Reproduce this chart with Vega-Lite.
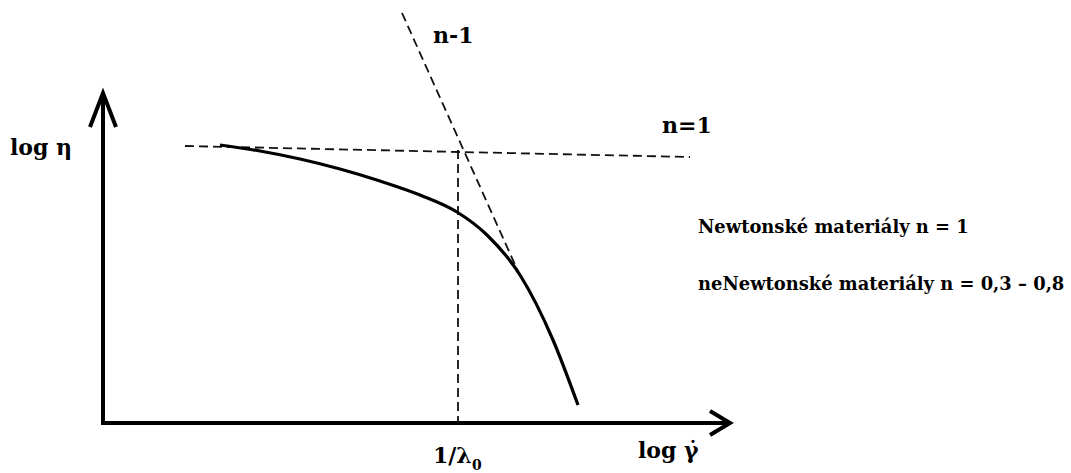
{
  "$schema": "https://vega.github.io/schema/vega-lite/v6.json",
  "width": 1071,
  "height": 473,
  "autosize": {"type": "fit", "contains": "padding"},
  "padding": 0,
  "background": "white",
  "config": {"view": {"stroke": null}},
  "datasets": {
    "axes": [
      {"part": "yaxis", "k": 0, "g": 103, "v": 48},
      {"part": "yaxis", "k": 1, "g": 103, "v": 378},
      {"part": "yhead", "k": 0, "g": 90, "v": 346},
      {"part": "yhead", "k": 1, "g": 103, "v": 380},
      {"part": "yhead", "k": 2, "g": 116, "v": 346},
      {"part": "xaxis", "k": 0, "g": 101, "v": 50},
      {"part": "xaxis", "k": 1, "g": 728, "v": 50},
      {"part": "xhead", "k": 0, "g": 710, "v": 62},
      {"part": "xhead", "k": 1, "g": 730, "v": 50},
      {"part": "xhead", "k": 2, "g": 710, "v": 38}
    ],
    "guides": [
      {"part": "n=1", "k": 0, "g": 185, "v": 327},
      {"part": "n=1", "k": 1, "g": 690, "v": 316},
      {"part": "n-1", "k": 0, "g": 402, "v": 460},
      {"part": "n-1", "k": 1, "g": 521, "v": 195},
      {"part": "lambda", "k": 0, "g": 458, "v": 323},
      {"part": "lambda", "k": 1, "g": 458, "v": 50}
    ],
    "curve": [
      {"g": 220, "v": 328},
      {"g": 260, "v": 322},
      {"g": 300, "v": 314},
      {"g": 340, "v": 304},
      {"g": 380, "v": 292},
      {"g": 420, "v": 278},
      {"g": 457, "v": 261},
      {"g": 487, "v": 238},
      {"g": 520, "v": 198},
      {"g": 553, "v": 133},
      {"g": 578, "v": 68}
    ],
    "labels": [
      {"kind": "big", "text": "log η", "g": 10, "v": 318},
      {"kind": "big", "text": "n-1", "g": 433, "v": 430},
      {"kind": "big", "text": "n=1", "g": 662, "v": 340},
      {"kind": "big", "text": "1/λ", "g": 433, "v": 10},
      {"kind": "big", "text": "log γ̇", "g": 638, "v": 15},
      {"kind": "sub", "text": "0", "g": 472, "v": 3},
      {"kind": "note", "text": "Newtonské materiály n = 1", "g": 698, "v": 240},
      {"kind": "note", "text": "neNewtonské materiály n = 0,3 – 0,8", "g": 698, "v": 183}
    ]
  },
  "encoding": {
    "x": {"field": "g", "type": "quantitative", "scale": {"domain": [0, 1071], "nice": false, "zero": false}, "axis": null},
    "y": {"field": "v", "type": "quantitative", "scale": {"domain": [0, 473], "nice": false, "zero": false}, "axis": null}
  },
  "layer": [
    {
      "data": {"name": "guides"},
      "mark": {"type": "line", "color": "#111", "strokeWidth": 1.8, "strokeDash": [9, 5]},
      "encoding": {"detail": {"field": "part"}, "order": {"field": "k"}}
    },
    {
      "data": {"name": "curve"},
      "mark": {"type": "line", "color": "black", "strokeWidth": 3.2, "interpolate": "monotone"},
      "encoding": {"order": {"field": "g"}}
    },
    {
      "data": {"name": "axes"},
      "mark": {"type": "line", "color": "black", "strokeWidth": 4, "strokeJoin": "miter", "strokeCap": "butt"},
      "encoding": {"detail": {"field": "part"}, "order": {"field": "k"}}
    },
    {
      "data": {"name": "labels"},
      "transform": [{"filter": "datum.kind === 'big'"}],
      "mark": {"type": "text", "align": "left", "baseline": "alphabetic", "font": "DejaVu Serif", "fontWeight": "bold", "fontSize": 22, "color": "black"},
      "encoding": {"text": {"field": "text"}}
    },
    {
      "data": {"name": "labels"},
      "transform": [{"filter": "datum.kind === 'sub'"}],
      "mark": {"type": "text", "align": "left", "baseline": "alphabetic", "font": "DejaVu Serif", "fontWeight": "bold", "fontSize": 14, "color": "black"},
      "encoding": {"text": {"field": "text"}}
    },
    {
      "data": {"name": "labels"},
      "transform": [{"filter": "datum.kind === 'note'"}],
      "mark": {"type": "text", "align": "left", "baseline": "alphabetic", "font": "DejaVu Serif", "fontWeight": "bold", "fontSize": 17.9, "color": "black"},
      "encoding": {"text": {"field": "text"}}
    }
  ]
}
